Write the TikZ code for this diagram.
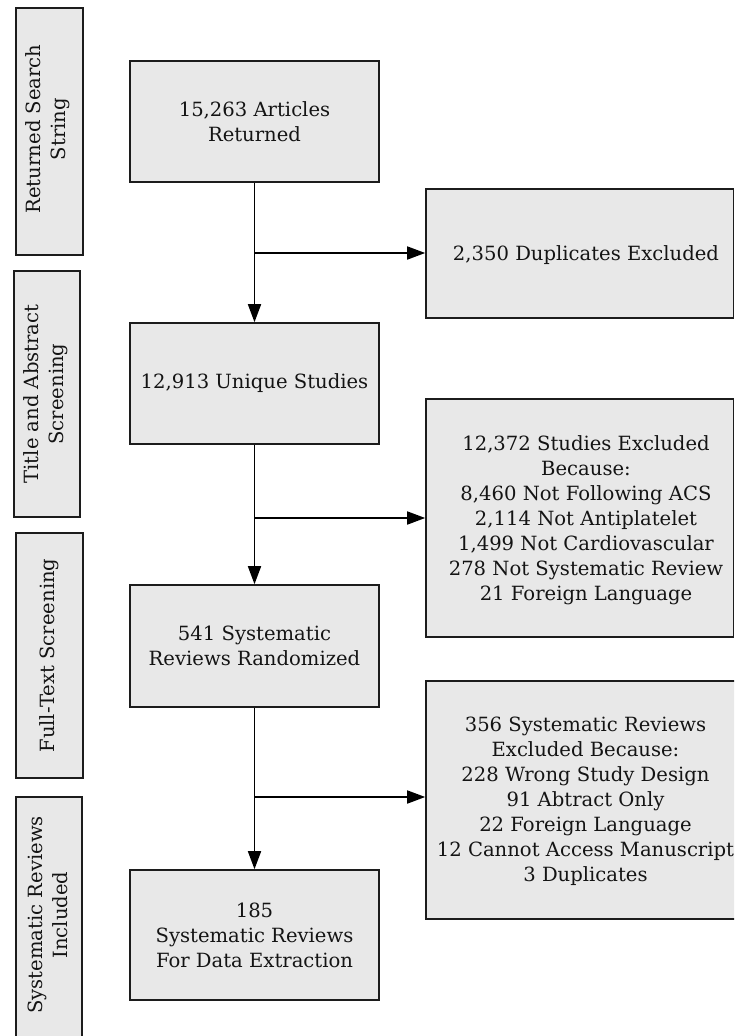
\documentclass[tikz,border=0pt]{standalone}
\usepackage{fontspec}
\setmainfont{DejaVu Serif}
\usetikzlibrary{arrows.meta}
\definecolor{boxfill}{HTML}{E8E8E8}
\definecolor{boxline}{HTML}{1C1C1C}
\begin{document}
\begin{tikzpicture}[x=1pt,y=-1pt,
  box/.style={draw=boxline, fill=boxfill, line width=1.6pt, inner sep=0pt},
  txt/.style={align=center, inner sep=0pt, text=black!92, font=\fontsize{19.6}{25}\selectfont},
  flow/.style={draw=black, line width=1.7pt, -{Triangle[length=18pt,width=13pt]}},
  line/.style={draw=black, line width=1.7pt}]
\useasboundingbox (0,0) rectangle (734,1036);
\clip (0,0) rectangle (734,1036);
% left stage boxes
\node[box, minimum width=67pt, minimum height=247pt] (L1) at (49.5,131.5) {};
\node[txt, rotate=90] (L1t) at (48,129) {Returned Search\\String};
\node[box, minimum width=66pt, minimum height=246pt] (L2) at (47,394) {};
\node[txt, rotate=90] (L2t) at (46,394) {Title and Abstract\\Screening};
\node[box, minimum width=67pt, minimum height=245pt] (L3) at (49.5,655.5) {};
\node[txt, rotate=90] (L3t) at (49,655.5) {Full-Text Screening};
\node[box, minimum width=66pt, minimum height=250pt] (L4) at (49,922) {};
\node[txt, rotate=90] (L4t) at (48,915) {Systematic Reviews\\Included};
% main flow boxes
\node[box, minimum width=249pt, minimum height=121pt, txt] (A) at (254.5,121.5) {15,263 Articles\\Returned};
\node[box, minimum width=249pt, minimum height=121pt, txt] (B) at (254.5,383.5) {12,913 Unique Studies};
\node[box, minimum width=249pt, minimum height=122pt, txt] (C) at (254.5,646) {541 Systematic\\Reviews Randomized};
\node[box, minimum width=249pt, minimum height=130pt, txt] (D) at (254.5,935) {185\\Systematic Reviews\\For Data Extraction};
% exclusion boxes
\node[box, minimum width=307.5pt, minimum height=129pt] (R1) at (579.75,253.5) {};
\node[txt] (R1t) at (586,255) {2,350 Duplicates Excluded};
\node[box, minimum width=307.5pt, minimum height=238pt] (R2) at (579.75,518) {};
\node[txt] (R2t) at (586,520) {12,372 Studies Excluded\\Because:\\8,460 Not Following ACS\\2,114 Not Antiplatelet\\1,499 Not Cardiovascular\\278 Not Systematic Review\\21 Foreign Language};
\node[box, minimum width=324pt, minimum height=238pt] (R3) at (588,800) {};
\node[txt] (R3t) at (585.5,801) {356 Systematic Reviews\\Excluded Because:\\228 Wrong Study Design\\91 Abtract Only\\22 Foreign Language\\12 Cannot Access Manuscript\\3 Duplicates};
% connectors
\coordinate (j1) at (254.5,253);
\coordinate (j2) at (254.5,518);
\coordinate (j3) at (254.5,797);
\draw[flow] (A.south) -- (B.north);
\draw[flow] (B.south) -- (C.north);
\draw[flow] (C.south) -- (D.north);
\draw[flow] (j1) -- (j1 -| R1.west);
\draw[flow] (j2) -- (j2 -| R2.west);
\draw[flow] (j3) -- (j3 -| R3.west);
\end{tikzpicture}
\end{document}
